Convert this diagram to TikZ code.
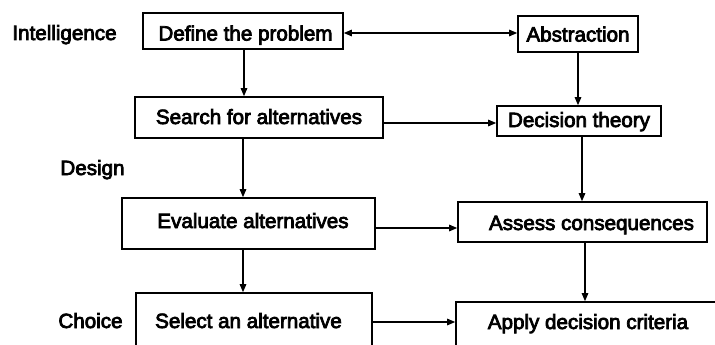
\documentclass[tikz,border=0pt]{standalone}
\usepackage{fontspec}
\setmainfont{Liberation Sans}
\usetikzlibrary{arrows.meta}
% heavier lettering: fill and stroke the glyph outlines
\newcommand\heavytext[1]{\special{pdf:literal direct q 2 Tr 0.75 w}#1\special{pdf:literal direct Q}}
\begin{document}
\begin{tikzpicture}[x=1pt,y=-1pt,
  lab/.style={font=\fontsize{20.6}{24}\selectfont, inner sep=0pt, anchor=base},
  stage/.style={draw, line width=1.6pt, inner sep=0pt, text depth=0pt,
    font=\fontsize{20.6}{24}\selectfont},
  arr/.style={line width=1.2pt, -{Triangle[length=8pt,width=6.5pt]}},
  darr/.style={line width=1.2pt, {Triangle[length=8pt,width=6.5pt]}-{Triangle[length=8pt,width=6.5pt]}}]
\useasboundingbox (0,0) rectangle (715,345);
\clip (0,0) rectangle (715,345);

% phase labels
\node[lab] (intel) at (64.5,40) {\heavytext{Intelligence}};
\node[lab] (design) at (92.5,175) {\heavytext{Design}};
\node[lab] (choice) at (90.5,328) {\heavytext{Choice}};

% left column: the decision process
\node[stage, minimum width=200pt, minimum height=36pt, text height=19pt] (def) at (243,31) {\hspace*{5pt}\heavytext{Define the problem}};
\node[stage, minimum width=248pt, minimum height=41pt, text height=13pt] (search) at (259,117.5) {\heavytext{Search for alternatives}};
\node[stage, minimum width=253pt, minimum height=51pt, text height=9pt] (eval) at (248.5,223.5) {\hspace*{9pt}\heavytext{Evaluate alternatives}};
\node[stage, minimum width=236pt, minimum height=60pt, text height=10pt] (select) at (254,323) {\heavytext{Select an alternative}\hspace*{11pt}};

% right column: the model side
\node[stage, minimum width=120pt, minimum height=36pt, text height=15pt] (abs) at (578,34) {\heavytext{Abstraction}};
\node[stage, minimum width=164pt, minimum height=30pt, text height=12pt] (dec) at (579,121) {\heavytext{Decision theory}};
\node[stage, minimum width=249pt, minimum height=40pt, text height=16pt] (assess) at (582.5,222) {\hspace*{18pt}\heavytext{Assess consequences}};
\node[stage, minimum width=264pt, minimum height=44pt, text height=10pt] (apply) at (588,324) {\heavytext{Apply decision criteria}};

% vertical flow, left column
\draw[arr] ([xshift=1pt]def.south) -- ([xshift=1pt]def.south |- search.north);
\draw[arr] (def.south |- search.south) -- (def.south |- eval.north);
\draw[arr] (def.south |- eval.south) -- (def.south |- select.north);

% vertical flow, right column
\draw[arr] (abs.south) -- (abs.south |- dec.north);
\draw[arr] ([xshift=3pt]dec.south) -- ([xshift=3pt]dec.south |- assess.north);
\draw[arr] ([xshift=2.5pt]assess.south) -- ([xshift=2.5pt]assess.south |- apply.north);

% links between the columns
\draw[darr] ([yshift=-2pt]def.east) -- ([yshift=-2pt]def.east -| abs.west);
\draw[arr] ([yshift=-5.5pt]search.east) -- ([yshift=-5.5pt]search.east -| dec.west);
\draw[arr] ([yshift=-4.5pt]eval.east) -- ([yshift=-4.5pt]eval.east -| assess.west);
\draw[arr] ([yshift=1pt]select.east) -- ([yshift=1pt]select.east -| apply.west);
\end{tikzpicture}
\end{document}
